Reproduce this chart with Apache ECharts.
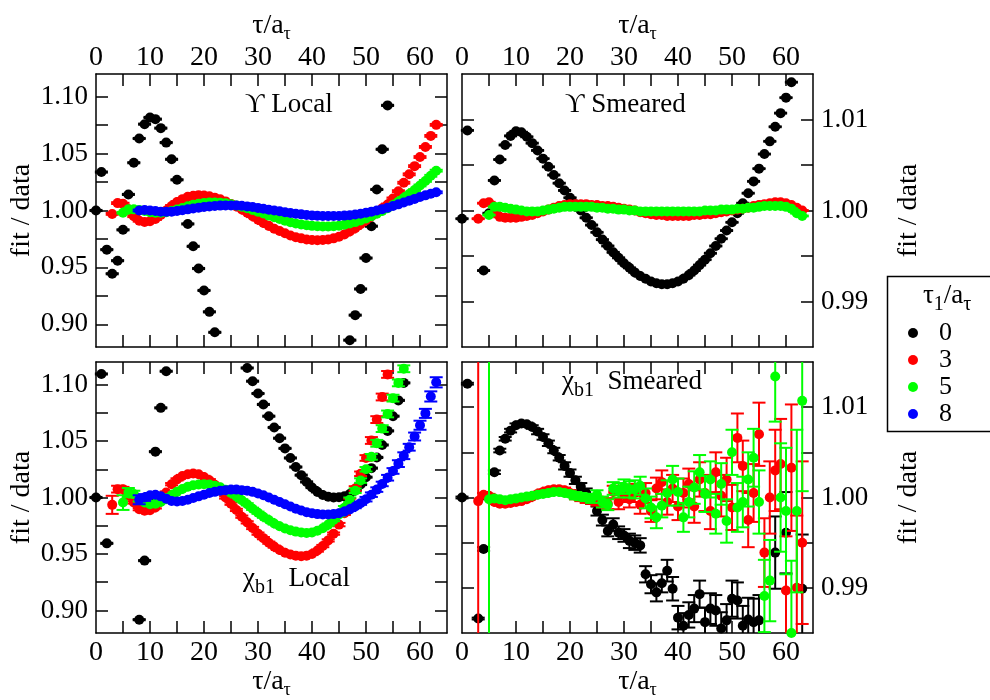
<!DOCTYPE html>
<html><head><meta charset="utf-8">
<script src="https://cdn.jsdelivr.net/npm/echarts/dist/echarts.min.js"></script>
<style>html,body{margin:0;padding:0;background:#fff}#c{width:990px;height:700px}</style>
</head><body><div id="c"></div><script>
// ---------- DATA (index = tau/a_tau) ----------
// Panel 1: Upsilon Local
const uLoc0 = [1.000,1.0338,0.9656,0.9444,0.9559,0.983,1.0141,1.042,1.0633,1.0759,1.0818,1.0803,1.0724,1.0597,1.045,1.027,1.008,0.9882,0.9685,0.949,0.9297,0.9109,0.8929,
 null,null,null,null,null,null,null,null,null,null,null,null,null,null,null,null,null,null,null,null,null,null,null,null,
 0.886,0.908,0.931,0.9582,0.9862,1.0185,1.0538,1.0924];
const uLoc3 = [null,null,null,0.997,1.0065,1.006,1.001,0.995,0.991,0.990,0.9905,0.9925,0.996,1.000,1.004,1.0075,1.010,1.012,1.013,1.0135,1.0132,1.0125,1.0113,1.0098,1.008,1.0058,1.0035,1.001,0.998,0.995,0.992,0.989,0.9865,0.984,0.982,0.980,0.978,0.9765,0.9755,0.9745,0.974,0.9738,0.974,0.9745,0.9755,0.977,0.979,0.9815,0.9845,0.988,0.9915,0.995,0.9985,1.002,1.0053,1.0106,1.017,1.0244,1.0318,1.039,1.047,1.0559,1.0656,1.0753];
const uLoc5 = [null,null,null,null,null,0.998,1.001,1.001,1.0005,0.9995,0.9985,0.998,0.998,0.9985,0.9995,1.0008,1.0022,1.0037,1.005,1.006,1.0067,1.007,1.007,1.0068,1.0063,1.0055,1.0045,1.0033,1.002,1.0005,0.999,0.9973,0.9955,0.994,0.9925,0.991,0.9897,0.9886,0.9877,0.987,0.9865,0.9861,0.9859,0.9859,0.9861,0.9866,0.9874,0.9885,0.9898,0.9913,0.993,0.995,0.9972,0.9995,1.002,1.0048,1.0078,1.011,1.0145,1.018,1.022,1.026,1.0305,1.035];
const uLoc8 = [null,null,null,null,null,null,null,null,1.000,1.0005,1.000,0.9995,0.999,0.9988,0.999,0.9995,1.0002,1.001,1.0018,1.0025,1.003,1.0036,1.004,1.0043,1.0045,1.0045,1.0044,1.0041,1.0036,1.003,1.0023,1.0015,1.0007,1.000,0.9993,0.9985,0.9978,0.9972,0.9966,0.9961,0.9957,0.9954,0.9952,0.9951,0.9951,0.9952,0.9955,0.9959,0.9965,0.9972,0.998,0.999,1.000,1.0012,1.0025,1.0039,1.0054,1.007,1.0086,1.0102,1.0118,1.0133,1.0148,1.016];
// Panel 2: Upsilon Smeared
const uSm0 = [0.9991,1.0088,null,null,0.9934,0.9997,1.0033,1.0056,1.0072,1.0082,1.0087,1.0086,1.0081,1.0074,1.0066,1.0057,1.0048,1.0039,1.0030,1.0022,1.0014,1.0007,1.0000,0.9992,0.9984,0.9976,0.9968,0.9961,0.9954,0.9948,0.9942,0.9937,0.9932,0.9928,0.9925,0.9922,0.992,0.9919,0.9919,0.992,0.9922,0.9925,0.9929,0.9934,0.994,0.9946,0.9953,0.9961,0.9969,0.9978,0.9987,0.9997,1.0008,1.0019,1.0032,1.0046,1.0062,1.0076,1.0092,1.0107,1.0124,1.0141];
const uSm3 = [null,null,null,0.9991,1.0008,1.0009,0.9998,0.9993,0.9992,0.9992,0.9992,0.9993,0.9994,0.9995,0.9997,0.9999,1.0001,1.0003,1.0005,1.0006,1.0007,1.0007,1.0007,1.0007,1.0006,1.0006,1.0005,1.0005,1.0004,1.0003,1.0002,1.0001,1.0000,0.9998,0.9997,0.9996,0.9995,0.9995,0.9994,0.9994,0.9994,0.9994,0.9994,0.9995,0.9995,0.9996,0.9996,0.9997,0.9998,0.9999,1.0000,1.0001,1.0002,1.0003,1.0005,1.0006,1.0007,1.0008,1.0009,1.0009,1.0008,1.0006,1.0003,1.0000];
const uSm5 = [null,null,null,null,null,0.9995,1.0004,1.0004,1.0003,1.0002,1.0001,1.0000,0.9999,0.9999,0.9999,1.0000,1.0001,1.0002,1.0003,1.0004,1.0004,1.0004,1.0004,1.0004,1.0004,1.0003,1.0003,1.0002,1.0002,1.0001,1.0001,1.0000,1.0000,0.9999,0.9999,0.9999,0.9999,0.9999,0.9999,0.9999,0.9999,0.9999,0.9999,0.9999,0.9999,1.0000,1.0000,1.0000,1.0001,1.0001,1.0001,1.0002,1.0002,1.0003,1.0003,1.0004,1.0005,1.0005,1.0005,1.0005,1.0004,1.0002,0.9997,0.9994];
// Panel 3: chi_b1 Local
const cLoc0 = [1.000,1.1094,0.9594,null,null,null,null,null,0.8918,0.9441,0.998,1.0406,1.0794,1.1118,
 null,null,null,null,null,null,null,null,null,null,null,null,null,null,
 1.1147,1.103,1.0921,1.0824,1.072,1.062,1.0525,1.0435,1.035,1.027,1.0198,1.0138,1.0088,1.005,1.0022,1.0007,1.0,1.0002,1.001,1.003,1.0065,1.0115,1.018,1.026,1.0355,1.0465,1.059,1.072,1.086,1.1015];
const cLoc3 = [null,null,null,0.9935,1.0074,1.0074,1.0015,0.9956,0.9897,0.9882,0.9888,0.9912,0.997,1.0044,1.0118,1.016,1.019,1.0206,1.0212,1.0206,1.0182,1.0153,1.0112,1.0059,1.000,0.9945,0.989,0.983,0.978,0.973,0.968,0.964,0.960,0.9565,0.9535,0.951,0.9495,0.9485,0.948,0.9485,0.950,0.953,0.957,0.962,0.968,0.976,0.986,0.997,1.008,1.021,1.035,1.0505,1.069,1.089,1.109];
const cLoc3e = [0,0,0,0.008,0.003,0.002,0.001,0.001,0.001,0.001,0.001,0.001,0.001,0.001,0.001,0.001,0.001,0.001,0.001,0.001,0.001,0.001,0.001,0.001,0.001,0.001,0.001,0.001,0.001,0.001,0.001,0.001,0.001,0.001,0.001,0.001,0.001,0.001,0.001,0.001,0.001,0.001,0.001,0.001,0.001,0.0015,0.0015,0.002,0.002,0.002,0.0025,0.003,0.003,0.003,0.003];
const cLoc5 = [null,null,null,null,null,0.9955,1.0044,1.003,0.9985,0.9956,0.994,0.9945,0.996,0.999,1.002,1.005,1.0075,1.0095,1.0108,1.0115,1.0118,1.0115,1.0105,1.009,1.0068,1.004,1.001,0.9975,0.994,0.990,0.9865,0.983,0.980,0.977,0.9745,0.9725,0.971,0.9698,0.969,0.9685,0.969,0.9705,0.9728,0.976,0.980,0.985,0.991,0.998,1.006,1.015,1.025,1.036,1.048,1.061,1.074,1.088,1.1015,1.114];
const cLoc5e = [0,0,0,0,0,0.0065,0.004,0.003,0.002,0.001,0.001,0.001,0.001,0.001,0.001,0.001,0.001,0.001,0.001,0.001,0.001,0.001,0.001,0.001,0.001,0.001,0.001,0.001,0.001,0.001,0.001,0.001,0.001,0.001,0.001,0.001,0.001,0.001,0.001,0.001,0.001,0.001,0.001,0.001,0.001,0.0015,0.0015,0.002,0.002,0.002,0.002,0.0025,0.003,0.003,0.003,0.003,0.003,0.003];
const cLoc8 = [null,null,null,null,null,null,null,null,0.998,1.000,1.002,1.0025,1.001,0.999,0.997,0.9965,0.997,0.998,0.9995,1.001,1.0025,1.004,1.005,1.006,1.0065,1.007,1.007,1.0065,1.006,1.005,1.0035,1.002,1.000,0.998,0.996,0.994,0.992,0.990,0.9885,0.987,0.986,0.9853,0.985,0.985,0.9853,0.986,0.9875,0.9895,0.992,0.995,0.9985,1.0025,1.007,1.012,1.0175,1.0235,1.030,1.037,1.0445,1.054,1.064,1.0745,1.0895,1.102];
const cLoc8e = [0,0,0,0,0,0,0,0,0.004,0.003,0.002,0.0015,0.001,0.001,0.001,0.001,0.001,0.001,0.001,0.001,0.001,0.001,0.001,0.001,0.001,0.001,0.001,0.001,0.001,0.001,0.001,0.001,0.001,0.001,0.001,0.001,0.001,0.001,0.001,0.001,0.001,0.001,0.001,0.001,0.001,0.001,0.0015,0.0015,0.0015,0.0015,0.002,0.002,0.002,0.002,0.0025,0.0025,0.003,0.003,0.003,0.0035,0.004,0.004,0.0045,0.0045];
// Panel 4: chi_b1 Smeared
const cSm0 = [1.000,1.0126,null,0.9866,0.9943,1.000,1.0028,1.0052,1.0065,1.0074,1.008,1.0082,1.0081,1.0078,1.0073,1.0067,1.006,1.0052,1.0044,1.0035,1.0027,1.0019,1.0012,1.0005,0.9998,0.9985,0.9975,0.9963,0.997,0.9961,0.9958,0.9952,0.995,0.9947,0.9915,0.9904,0.9895,0.9905,0.9919,0.9899,0.9867,0.9858,0.987,0.9877,0.9893,0.9862,0.9877,0.9875,0.9855,0.9864,0.9888,0.9886,0.9858,0.9865,0.9862,0.9864,null,null,0.9939,null,0.9961,null,null,0.9899];
const cSm0e = [0.0001,0.0001,0,0.0001,0.0002,0.0002,0.0002,0.0002,0.0002,0.0002,0.0002,0.0002,0.0002,0.0002,0.0003,0.0003,0.0003,0.0003,0.0003,0.0004,0.0004,0.0004,0.0004,0.0005,0.0005,0.0005,0.0006,0.0006,0.0007,0.0007,0.0007,0.0008,0.0008,0.0008,0.0009,0.001,0.001,0.001,0.0012,0.0013,0.0013,0.0014,0.0014,0.0015,0.0015,0.0016,0.0017,0.0017,0.0018,0.0018,0.002,0.002,0.0022,0.0024,0.0026,0.0028,0,0,0.004,0,0.0045,0,0,0.006];
const cSm3 = [null,null,null,0.9996,1.0003,1.0002,0.9995,0.9993,0.9993,0.9994,0.9995,0.9996,0.9998,1.0001,1.0004,1.0006,1.0008,1.0009,1.0009,1.0008,1.0005,1.0002,1.0000,0.9998,0.9997,0.9996,0.9994,0.9993,1.0006,0.9995,1.0003,0.9998,1.0005,0.9992,1.0005,0.9985,1.001,1.0017,0.9995,1.001,0.999,1.0005,1.0015,0.999,1.002,1.0005,0.9985,1.0028,1.0002,1.002,0.9989,1.0066,1.0035,0.9975,1.0005,1.007,0.9939,1.0,1.003,1.0037,0.9897,1.0033,0.99,0.995];
const cSm3e = [0,0,0,0.05,0.0002,0.0002,0.0002,0.0002,0.0002,0.0002,0.0002,0.0002,0.0002,0.0002,0.0002,0.0003,0.0003,0.0003,0.0003,0.0003,0.0003,0.0004,0.0004,0.0004,0.0004,0.0005,0.0005,0.0006,0.0007,0.0008,0.0008,0.0009,0.001,0.001,0.0011,0.0012,0.0012,0.0013,0.0014,0.0015,0.0015,0.0016,0.0017,0.0018,0.0019,0.002,0.002,0.0022,0.0023,0.0024,0.0025,0.0027,0.0028,0.003,0.0032,0.0035,0.0038,0.004,0.0045,0.005,0.006,0.007,0.008,0.009];
const cSm5 = [null,null,null,null,null,0.9998,0.9999,0.9998,0.9997,0.9998,0.9999,1.0000,1.0001,1.0002,1.0003,1.0004,1.0005,1.0006,1.0006,1.0005,1.0004,1.0002,1.0001,1.0000,0.9999,1.0003,0.9995,0.9992,1.0010,1.0008,1.0012,1.0009,1.0009,1.0013,0.9999,0.9989,0.9978,0.9991,1.0005,1.0020,1.0006,0.9978,0.9995,1.0011,1.0028,1.0004,1.0020,0.9982,1.0015,0.9974,1.005,0.9989,0.9995,1.002,1.0044,0.9995,0.9891,0.9908,1.0134,1.0,0.9985,0.985,0.9985,1.0107];
const cSm5e = [0,0,0,0,0,0.05,0.0002,0.0002,0.0002,0.0002,0.0002,0.0002,0.0002,0.0002,0.0002,0.0003,0.0003,0.0003,0.0003,0.0003,0.0003,0.0004,0.0004,0.0004,0.0005,0.0005,0.0006,0.0006,0.0007,0.0008,0.0008,0.0009,0.001,0.001,0.0011,0.0012,0.0012,0.0013,0.0014,0.0015,0.0015,0.0016,0.0017,0.0018,0.0019,0.002,0.002,0.0022,0.0023,0.0024,0.0025,0.0027,0.0028,0.003,0.0032,0.0035,0.004,0.0045,0.005,0.006,0.007,0.008,0.009,0.01];

// axis ticks / labels
const xTicks = [5,10,15,20,25,30,35,40,45,50,55,60];
const xLabels = [0,10,20,30,40,50,60];
const yTicksL = [0.90,0.925,0.95,0.975,1.00,1.025,1.05,1.075,1.10];
const yLabelsL = [0.90,0.95,1.00,1.05,1.10];
const yTicksR = [0.99,0.995,1.00,1.005,1.01];
const yLabelsR = [0.99,1.00,1.01];
const legendNames = ['0','3','5','8'];
const legendColors = ['#000000','#ff0000','#00ff00','#0000ff'];

// ---------- BUILD ----------
const FONT = 'Liberation Serif';
function pts(vals, errs, defErr) {
  const out = [];
  vals.forEach((v, t) => {
    if (v === null || v === undefined) return;
    const e = errs ? (errs[t] || defErr) : defErr;
    out.push([t, v, e]);
  });
  return out;
}
function renderErr(params, api) {
  const t = api.value(0), v = api.value(1), e = api.value(2);
  const cs = params.coordSys;
  const p = api.coord([t, v]);
  const top = api.coord([t, v + e])[1], bot = api.coord([t, v - e])[1];
  const color = api.visual('color');
  const ymin = cs.y, ymax = cs.y + cs.height;
  const ch = [];
  const yt = Math.max(top, ymin), yb = Math.min(bot, ymax);
  if (yt < yb) ch.push({type:'line', shape:{x1:p[0],y1:yt,x2:p[0],y2:yb}, style:{stroke:color,lineWidth:2}});
  const cap = 6.5;
  if (top >= ymin && top <= ymax) ch.push({type:'line', shape:{x1:p[0]-cap,y1:top,x2:p[0]+cap,y2:top}, style:{stroke:color,lineWidth:2}});
  if (bot >= ymin && bot <= ymax) ch.push({type:'line', shape:{x1:p[0]-cap,y1:bot,x2:p[0]+cap,y2:bot}, style:{stroke:color,lineWidth:2}});
  if (p[1] >= ymin - 1 && p[1] <= ymax + 1) ch.push({type:'circle', shape:{cx:p[0],cy:p[1],r:5}, style:{fill:color}});
  return {type:'group', children: ch};
}
const grids = [
  {left:96, top:74, width:351, height:273},
  {left:462, top:74, width:351, height:273},
  {left:96, top:362, width:351, height:271},
  {left:462, top:362, width:351, height:271}
];
const axisLineStyle = {color:'#000', width:1.5};
const tauName = '{a|τ/a}{s|τ}';
const tauRich = {a:{fontFamily:FONT,fontSize:28,color:'#000'}, s:{fontFamily:FONT,fontSize:18,color:'#000',padding:[16,0,0,0]}};
const xAxes = [], yAxes = [];
grids.forEach((g, i) => {
  ['bottom','top'].forEach(pos => {
    const lab = (i < 2 && pos === 'top') || (i >= 2 && pos === 'bottom');
    xAxes.push({gridIndex:i, type:'value', min:0, max:65, position:pos,
      axisLine:{show:true, onZero:false, lineStyle:axisLineStyle},
      axisTick:{show:true, inside:true, length:12, customValues:xTicks, lineStyle:axisLineStyle},
      axisLabel:{show:lab, customValues:xLabels, fontFamily:FONT, fontSize:28, color:'#000', margin: i < 2 ? 2 : 6},
      splitLine:{show:false},
      name: lab ? tauName : '', nameLocation:'middle', nameGap: i < 2 ? 26 : 32,
      nameTextStyle:{rich:tauRich}
    });
  });
  const right = (i % 2 === 1);
  const ymin = right ? 0.985 : 0.88, ymax = right ? 1.015 : 1.12;
  ['left','right'].forEach(pos => {
    const lab = (right && pos === 'right') || (!right && pos === 'left');
    yAxes.push({gridIndex:i, type:'value', min:ymin, max:ymax, position:pos,
      axisLine:{show:true, onZero:false, lineStyle:axisLineStyle},
      axisTick:{show:true, inside:true, length:12, customValues: right ? yTicksR : yTicksL, lineStyle:axisLineStyle},
      axisLabel:{show:lab, customValues: right ? yLabelsR : yLabelsL, formatter: v => Number(v).toFixed(2),
        fontFamily:FONT, fontSize:27, color:'#000', margin:8},
      splitLine:{show:false},
      name: lab ? 'fit / data' : '', nameLocation:'middle', nameGap: right ? 82 : 60, nameRotate: 90,
      nameTextStyle:{fontFamily:FONT, fontSize:28, color:'#000'}
    });
  });
});
const panels = [
  [[uLoc0,null,0.0005],[uLoc3,null,0.0008],[uLoc5,null,0.0008],[uLoc8,null,0.0008]],
  [[uSm0,null,0.00005],[uSm3,null,0.00005],[uSm5,null,0.00005],null],
  [[cLoc0,null,0.0005],[cLoc3,cLoc3e,0.001],[cLoc5,cLoc5e,0.001],[cLoc8,cLoc8e,0.001]],
  [[cSm0,cSm0e,0.0002],[cSm3,cSm3e,0.0002],[cSm5,cSm5e,0.0002],null]
];
const series = [];
panels.forEach((ser, i) => {
  ser.forEach((s, k) => {
    if (!s) return;
    series.push({type:'custom', name: legendNames[k], xAxisIndex: i*2, yAxisIndex: i*2,
      itemStyle:{color: legendColors[k]}, renderItem: renderErr,
      encode:{x:0, y:1}, data: pts(s[0], s[1], s[2]), z: 2 + k});
  });
});
const sub = {fontFamily:FONT, fontSize:20, color:'#000', padding:[18,0,0,0]};
const big = {fontFamily:FONT, fontSize:27, color:'#000'};
const option = {
  backgroundColor:'#fff', animation:false,
  grid: grids, xAxis: xAxes, yAxis: yAxes, series: series,
  legend: {data: legendNames.map((n, k) => ({name:n, icon:'circle', itemStyle:{color:legendColors[k]}})),
    orient:'vertical', left: 903, top: 315, itemWidth: 10, itemHeight: 10, itemGap: 1,
    textStyle:{fontFamily:FONT, fontSize:26, color:'#000', padding:[0,0,0,16]}, selectedMode:false},
  graphic: [
    {type:'rect', left:885, top:274, shape:{width:120, height:155}, style:{fill:'none', stroke:'#000', lineWidth:1.5}, z:10},
    {type:'text', left:923, top:282, style:{rich:{a:big, s:sub}, text:'{a|τ}{s|1}{a|/a}{s|τ}'}, z:10},
    {type:'text', left:245, top:91, style:{rich:{a:big}, text:'{a|ϒ Local}'}, z:10},
    {type:'text', left:565, top:91, style:{rich:{a:big}, text:'{a|ϒ Smeared}'}, z:10},
    {type:'text', left:243, top:565, style:{rich:{a:big, s:sub}, text:'{a|χ}{s|b1}{a|  Local}'}, z:10},
    {type:'text', left:562, top:368, style:{rich:{a:big, s:sub}, text:'{a|χ}{s|b1}{a|  Smeared}'}, z:10}
  ]
};
const chart = echarts.init(document.getElementById('c'), null, {renderer:'canvas'});
chart.setOption(option);
</script></body></html>
